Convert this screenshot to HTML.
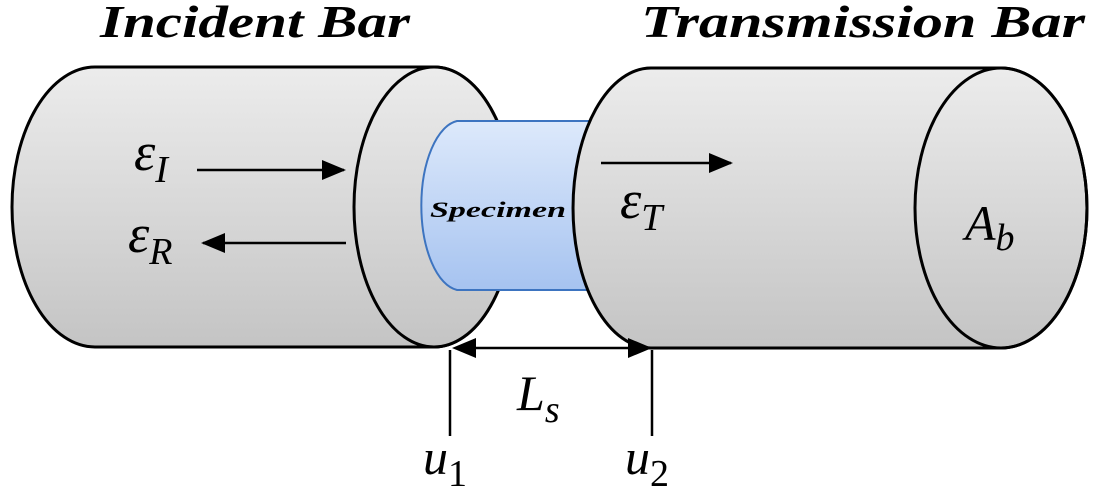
<!DOCTYPE html>
<html><head><meta charset="utf-8"><style>
html,body{margin:0;padding:0;background:#fff;}
svg{display:block;}
.t{font-family:"Liberation Serif",serif;font-weight:bold;font-style:italic;font-size:46px;}
.m{font-family:"Liberation Serif",serif;font-style:italic;}
</style></head><body>
<svg width="1102" height="496" viewBox="0 0 1102 496" xmlns="http://www.w3.org/2000/svg">
<defs>
<linearGradient id="g" x1="0" y1="0" x2="0" y2="1">
<stop offset="0" stop-color="#ececec"/><stop offset="1" stop-color="#c4c4c4"/>
</linearGradient>
<linearGradient id="b" x1="0" y1="0" x2="0" y2="1">
<stop offset="0" stop-color="#dde9fb"/><stop offset="1" stop-color="#a6c3f0"/>
</linearGradient>
<marker id="ab" markerWidth="24" markerHeight="20" refX="22" refY="10" orient="auto" markerUnits="userSpaceOnUse"><path d="M0,0 L24,10 L0,20z" fill="#000"/></marker>
</defs>
<text class="t" x="100" y="37" textLength="310" lengthAdjust="spacingAndGlyphs">Incident Bar</text>
<text class="t" x="641" y="37" textLength="444" lengthAdjust="spacingAndGlyphs">Transmission Bar</text>
<!-- incident bar -->
<path d="M95,67 L434,67 A80,140 0 0 1 434,347 L95,347 A83,140 0 0 1 95,67z" fill="url(#g)" stroke="#000" stroke-width="3"/>
<ellipse cx="434" cy="207" rx="80" ry="140" fill="url(#g)" stroke="#000" stroke-width="3"/>
<!-- specimen -->
<path d="M457,121 L610,121 L610,290 L457,290 A40,85 0 0 1 457,121z" fill="url(#b)" stroke="#3d74c0" stroke-width="2"/>
<text x="430" y="217" font-family="Liberation Serif,serif" font-weight="bold" font-style="italic" font-size="22" textLength="136" lengthAdjust="spacingAndGlyphs">Specimen</text>
<!-- transmission bar -->
<path d="M651,68 L1001,68 A86,140 0 0 1 1001,348 L651,348 A78,140 0 0 1 651,68z" fill="url(#g)" stroke="#000" stroke-width="3"/>
<ellipse cx="1001" cy="208" rx="86" ry="140" fill="none" stroke="#000" stroke-width="3"/>
<!-- arrows -->
<line x1="197" y1="170" x2="344" y2="170" stroke="#000" stroke-width="2.5" marker-end="url(#ab)"/>
<line x1="346" y1="243" x2="203" y2="243" stroke="#000" stroke-width="2.5" marker-end="url(#ab)"/>
<line x1="601" y1="163" x2="731" y2="163" stroke="#000" stroke-width="2.5" marker-end="url(#ab)"/>
<line x1="470" y1="348" x2="650" y2="348" stroke="#000" stroke-width="2.5" marker-end="url(#ab)"/>
<path d="M452,348 L476,338 L476,358z" fill="#000"/>
<line x1="450" y1="350" x2="450" y2="436" stroke="#000" stroke-width="2.5"/>
<line x1="652" y1="350" x2="652" y2="436" stroke="#000" stroke-width="2.5"/>
<!-- math labels -->
<text class="m" x="134" y="170" font-size="54">ε<tspan font-size="38" dy="12">I</tspan></text>
<text class="m" x="128" y="252" font-size="54">ε<tspan font-size="38" dy="12">R</tspan></text>
<text class="m" x="620" y="218" font-size="54">ε<tspan font-size="38" dy="12">T</tspan></text>
<text class="m" x="965" y="240" font-size="50">A<tspan font-size="38" dy="10">b</tspan></text>
<text class="m" x="517" y="410" font-size="50">L<tspan font-size="38" dy="12">s</tspan></text>
<text class="m" x="423" y="474" font-size="50">u<tspan font-size="38" dy="12" font-style="normal">1</tspan></text>
<text class="m" x="625" y="474" font-size="50">u<tspan font-size="38" dy="12" font-style="normal">2</tspan></text>
</svg>
</body></html>
